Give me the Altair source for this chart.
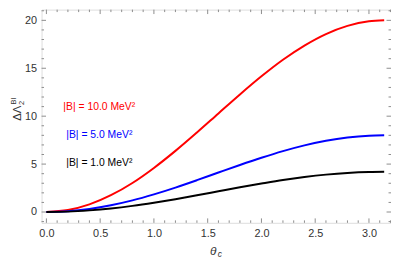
import altair as alt
import pandas as pd

# ---- data ----
theta = [0.0, 0.2, 0.4, 0.6, 0.8, 1.0, 1.2, 1.4, 1.6, 1.8, 2.0, 2.2, 2.4, 2.6, 2.8, 3.0, 3.1416]
red_b10 = [0.0, 0.2, 0.79, 1.75, 3.03, 4.6, 6.38, 8.3, 10.29, 12.27, 14.16, 15.89, 17.37, 18.57, 19.42, 19.9, 20.0]
blue_b5 = [0.0, 0.08, 0.32, 0.70, 1.21, 1.84, 2.55, 3.32, 4.12, 4.91, 5.66, 6.35, 6.95, 7.43, 7.77, 7.96, 8.0]
black_b1 = [0.0, 0.04, 0.17, 0.37, 0.64, 0.97, 1.34, 1.74, 2.16, 2.58, 2.97, 3.34, 3.65, 3.90, 4.08, 4.18, 4.2]
series_names = ["|B| = 10.0 MeV²", "|B| = 5.0 MeV²", "|B| = 1.0 MeV²"]
series_colors = ["#ff0000", "#0000ff", "#000000"]

x_major = [0.0, 0.5, 1.0, 1.5, 2.0, 2.5, 3.0]
x_minor = [round(0.1 * i, 1) for i in range(1, 33) if i % 5 != 0]
y_major = [0, 5, 10, 15, 20]
y_minor = [-1] + [i for i in range(1, 22) if i % 5 != 0]

x_domain = [-0.045, 3.205]
y_domain = [-1.13, 21.12]

W, H = 354, 216
FRAME = "#8c8c8c"
FONT = "Liberation Sans"

rows = []
for name, vals in zip(series_names, [red_b10, blue_b5, black_b1]):
    for t, v in zip(theta, vals):
        rows.append({"theta": t, "val": v, "series": name})
df = pd.DataFrame(rows)

xs = alt.Scale(domain=x_domain, nice=False, zero=False)
ys = alt.Scale(domain=y_domain, nice=False, zero=False)
x_axis = alt.Axis(values=x_major, format=".1f", ticks=False, domain=False, grid=False,
                  labelPadding=5, labelFontSize=11, labelColor="#333333", labelFont=FONT,
                  labelFlush=False, labelOverlap=False)
y_axis = alt.Axis(values=y_major, format="d", ticks=False, domain=False, grid=False,
                  labelPadding=5, labelFontSize=11, labelColor="#333333", labelFont=FONT,
                  labelOverlap=False)

curves = alt.Chart(df).mark_line(strokeWidth=2, interpolate="monotone").encode(
    x=alt.X("theta:Q", scale=xs, title=None, axis=x_axis),
    y=alt.Y("val:Q", scale=ys, title=None, axis=y_axis),
    color=alt.Color("series:N", scale=alt.Scale(domain=series_names, range=series_colors), legend=None),
    detail="series:N",
)

def xticks(vals, length):
    d = pd.DataFrame({"v": vals})
    bottom = alt.Chart(d).mark_rule(color=FRAME, strokeWidth=1).encode(
        x=alt.X("v:Q", scale=xs, axis=x_axis, title=None), y=alt.value(H), y2=alt.value(H - length))
    top = alt.Chart(d).mark_rule(color=FRAME, strokeWidth=1).encode(
        x=alt.X("v:Q", scale=xs, axis=x_axis, title=None), y=alt.value(0), y2=alt.value(length))
    return [bottom, top]

def yticks(vals, length):
    d = pd.DataFrame({"v": vals})
    left = alt.Chart(d).mark_rule(color=FRAME, strokeWidth=1).encode(
        y=alt.Y("v:Q", scale=ys, axis=y_axis, title=None), x=alt.value(0), x2=alt.value(length))
    right = alt.Chart(d).mark_rule(color=FRAME, strokeWidth=1).encode(
        y=alt.Y("v:Q", scale=ys, axis=y_axis, title=None), x=alt.value(W), x2=alt.value(W - length))
    return [left, right]

ticks = xticks(x_major, 4.5) + xticks(x_minor, 2.5) + yticks(y_major, 4.5) + yticks(y_minor, 2.5)

ann_pos = [(22, 99), (25, 127), (25, 155)]
anns = []
for name, col, (px, py) in zip(series_names, series_colors, ann_pos):
    anns.append(alt.Chart(pd.DataFrame({"t": [name]})).mark_text(
        align="left", baseline="middle", fontSize=10.5, font=FONT, color=col
    ).encode(x=alt.value(px), y=alt.value(py), text="t:N"))

one = pd.DataFrame({"a": [0]})
def txt(s, px, py, size, angle=0, italic=False, color="#333333"):
    kw = dict(align="center", baseline="middle", fontSize=size, font=FONT, color=color, angle=angle)
    if italic:
        kw["fontStyle"] = "italic"
    return alt.Chart(one).mark_text(text=s, **kw).encode(x=alt.value(px), y=alt.value(py))

titles = [
    txt("ΔΛ", -24, 105, 11.5, angle=270),
    txt("BI", -27.5, 92.5, 7.5, angle=270),
    txt("2", -19.5, 94.5, 7.5, angle=270),
    txt("θ", W / 2 - 3, 245, 12, italic=True),
    txt("c", W / 2 + 3.5, 248, 8.5, italic=True),
]

chart = alt.layer(curves, *ticks, *anns, *titles).properties(
    width=W, height=H,
    autosize=alt.AutoSizeParams(type="none"),
    padding={"left": 34, "top": 0, "right": 0, "bottom": 35},
).configure_view(stroke=FRAME, strokeWidth=1).configure(background="white")

chart.save("out.html", embed_options={"renderer": "svg", "actions": False})
